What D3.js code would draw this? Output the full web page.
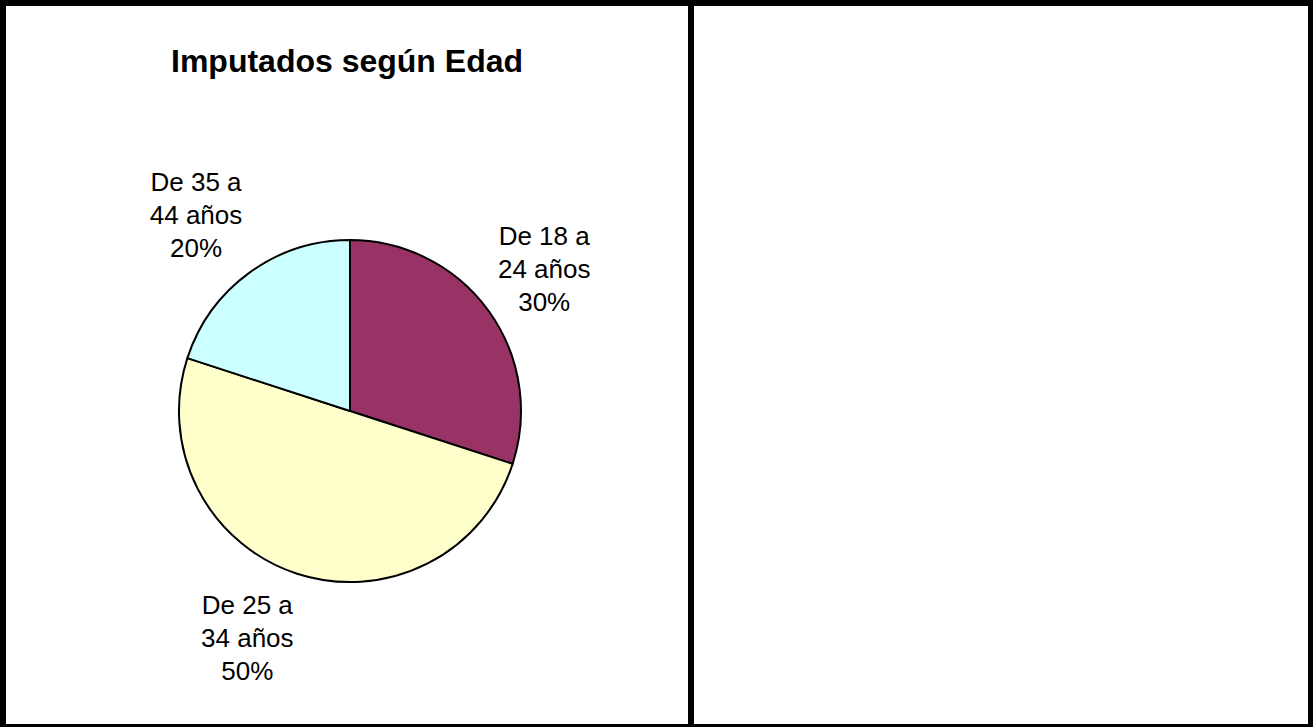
<!DOCTYPE html>
<html>
<head>
<meta charset="utf-8">
<script src="https://cdn.jsdelivr.net/npm/d3@7/dist/d3.min.js"></script>
<style>
html,body{margin:0;padding:0;background:#fff;}
svg{display:block;}
</style>
</head>
<body>
<svg id="chart" width="1313" height="727"></svg>
<script>
const title = "Imputados según Edad";
const categories = ["De 18 a 24 años", "De 25 a 34 años", "De 35 a 44 años"];
const labelLines = [["De 18 a", "24 años"], ["De 25 a", "34 años"], ["De 35 a", "44 años"]];
const values = [30, 50, 20];
const colors = ["#993366", "#FFFFCC", "#CCFFFF"];

const W = 1313, H = 727;
const svg = d3.select("#chart");

// frame borders
svg.append("rect").attr("x",0).attr("y",0).attr("width",W).attr("height",H).attr("fill","#fff");
const bars = [
  [0,0,W,6],[0,0,6,H],[1308,0,5,H],[0,724,W,3],[688,0,6,H]
];
bars.forEach(b => svg.append("rect").attr("x",b[0]).attr("y",b[1]).attr("width",b[2]).attr("height",b[3]).attr("fill","#000"));

svg.append("text")
  .attr("x", 347).attr("y", 72)
  .attr("text-anchor","middle")
  .attr("font-family","Liberation Sans, Arial, sans-serif")
  .attr("font-weight","bold")
  .attr("font-size", 32)
  .text(title);

const cx = 350, cy = 411, R = 171;
const pie = d3.pie().sort(null).value(d => d)(values);
const arc = d3.arc().innerRadius(0).outerRadius(R);
const g = svg.append("g").attr("transform", `translate(${cx},${cy})`);
g.selectAll("path").data(pie).enter().append("path")
  .attr("d", arc)
  .attr("fill", (d,i) => colors[i])
  .attr("stroke", "#000")
  .attr("stroke-width", 2)
  .attr("stroke-linejoin","round");

const labelArc = d3.arc().innerRadius(245).outerRadius(245);
const nudge = [[-4,2],[-27,-6],[-10,2]];
const total = d3.sum(values);
pie.forEach((d,i) => {
  const [x,y] = labelArc.centroid(d);
  const lx = x + nudge[i][0], ly = y + nudge[i][1];
  const lines = labelLines[i].concat([Math.round(values[i]/total*100) + "%"]);
  const t = g.append("text")
    .attr("text-anchor","middle")
    .attr("font-family","Liberation Sans, Arial, sans-serif")
    .attr("font-size", 26)
    .attr("fill","#000");
  lines.forEach((s,k) => {
    t.append("tspan").attr("x", lx).attr("y", ly + 9 + (k-1)*33).text(s);
  });
});
</script>
</body>
</html>
